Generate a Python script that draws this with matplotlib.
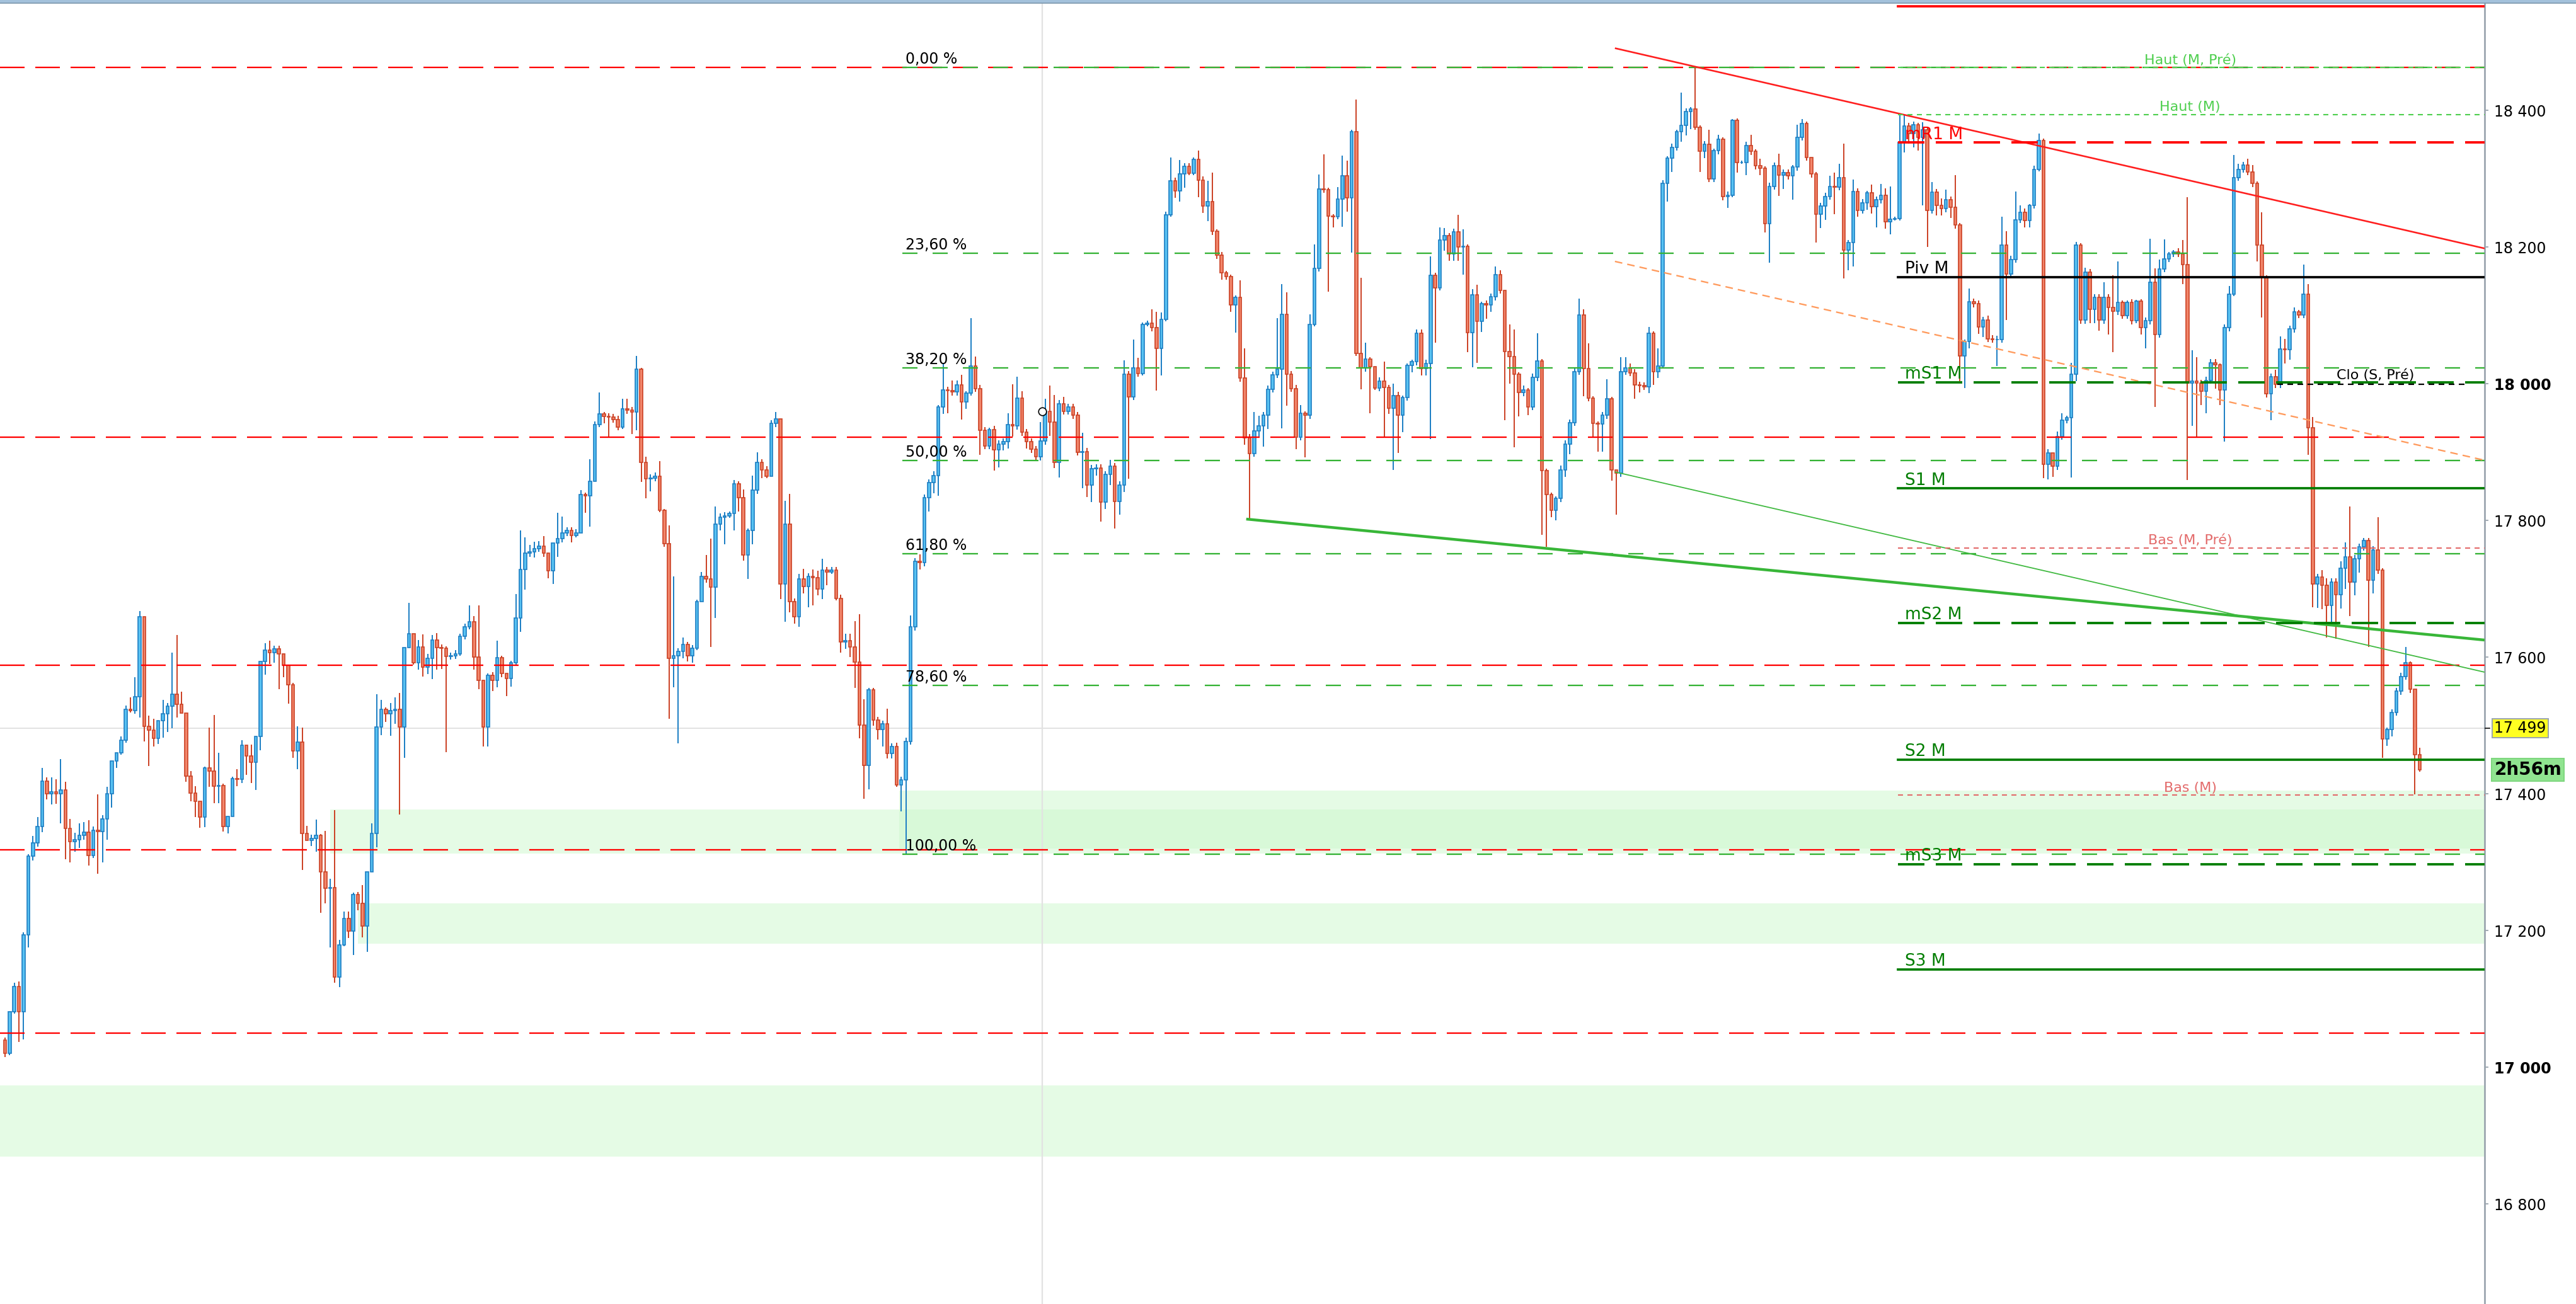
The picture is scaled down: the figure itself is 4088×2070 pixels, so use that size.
import numpy as np
import matplotlib.pyplot as plt
from matplotlib.patches import Rectangle
from matplotlib.lines import Line2D
from matplotlib.transforms import blended_transform_factory

plt.rcParams['font.family'] = ['DejaVu Sans']
plt.rcParams['lines.scale_dashes'] = False

W, H = 4088, 2070
PX = 72 / 100  # points per pixel at dpi 100

# ---- candles (open = previous close) ----
first_open = 17040
closes = [
    17020, 17081, 17118, 17081, 17194, 17309, 17328, 17352, 17419, 17400,
    17403, 17400, 17406, 17349, 17330, 17333, 17339, 17344, 17310, 17347,
    17345, 17363, 17400, 17448, 17460, 17478, 17524, 17522, 17542, 17659,
    17499, 17493, 17481, 17507, 17517, 17528, 17546, 17531, 17518, 17426,
    17401, 17389, 17366, 17438, 17433, 17411, 17412, 17352, 17367, 17422,
    17421, 17471, 17455, 17446, 17484, 17594, 17610, 17607, 17612, 17605,
    17588, 17560, 17463, 17476, 17342, 17332, 17335, 17339, 17286, 17262,
    17263, 17132, 17179, 17218, 17199, 17253, 17240, 17207, 17286, 17342,
    17498, 17524, 17517, 17522, 17524, 17498, 17614, 17634, 17592, 17615,
    17585, 17598, 17625, 17614, 17613, 17601, 17602, 17605, 17631, 17644,
    17652, 17600, 17566, 17498, 17573, 17566, 17599, 17576, 17569, 17592,
    17657, 17728, 17752, 17754, 17759, 17762, 17752, 17726, 17767, 17773,
    17782, 17785, 17778, 17782, 17838, 17836, 17857, 17940, 17956, 17952,
    17951, 17948, 17937, 17963, 17961, 17959, 18021, 17885, 17861, 17862,
    17865, 17815, 17766, 17598, 17602, 17608, 17619, 17602, 17613, 17681,
    17718, 17714, 17702, 17795, 17805, 17807, 17810, 17854, 17833, 17749,
    17785, 17844, 17885, 17874, 17865, 17942, 17949, 17707, 17795, 17681,
    17659, 17714, 17703, 17718, 17716, 17700, 17727, 17725, 17727, 17686,
    17622, 17624, 17615, 17593, 17501, 17442, 17552, 17508, 17494, 17502,
    17459, 17469, 17413, 17420, 17477, 17644, 17740, 17738, 17833, 17855,
    17866, 17966, 17991, 17990, 17988, 17998, 17973, 17986, 18026, 17993,
    17932, 17909, 17933, 17903, 17912, 17915, 17940, 17938, 17979, 17929,
    17915, 17904, 17893, 17916, 17960, 17944, 17885, 17971, 17960, 17966,
    17954, 17900, 17901, 17852, 17876, 17877, 17827, 17867, 17879, 17828,
    17852, 18014, 17981, 18023, 18015, 18087, 18089, 18082, 18052, 18094,
    18247, 18297, 18282, 18307, 18318, 18308, 18328, 18298, 18260, 18267,
    18223, 18188, 18162, 18157, 18115, 18126, 18008, 17921, 17898, 17931,
    17938, 17954, 17992, 18013, 18021, 18102, 18014, 17993, 17922, 17957,
    17954, 18087, 18169, 18285, 18284, 18245, 18244, 18270, 18304, 18272,
    18369, 18044, 18023, 18036, 18025, 17994, 18004, 17995, 17964, 17983,
    17954, 17980, 18027, 18032, 18074, 18022, 18030, 18159, 18140, 18210,
    18217, 18190, 18222, 18200, 18201, 18075, 18130, 18091, 18117, 18115,
    18127, 18160, 18137, 18047, 18040, 18014, 17987, 17991, 17966, 18009,
    18033, 17873, 17838, 17815, 17832, 17874, 17912, 17943, 18018, 18101,
    18022, 17979, 17942, 17941, 17954, 17978, 17874, 17869, 18018, 18023,
    18016, 17998, 17997, 17996, 18074, 18018, 18026, 18293, 18330, 18346,
    18369, 18378, 18398, 18402, 18375, 18340, 18350, 18300, 18341, 18358,
    18274, 18276, 18385, 18324, 18324, 18349, 18340, 18319, 18315, 18234,
    18289, 18319, 18305, 18309, 18304, 18317, 18361, 18381, 18331, 18307,
    18248, 18260, 18274, 18289, 18288, 18302, 18196, 18207, 18281, 18254,
    18265, 18279, 18259, 18269, 18276, 18237, 18241, 18242, 18353, 18377,
    18366, 18379, 18361, 18372, 18254, 18280, 18261, 18256, 18269, 18258,
    18232, 18041, 18062, 18120, 18117, 18083, 18093, 18066, 18065, 18065,
    18203, 18161, 18182, 18240, 18251, 18239, 18261, 18314, 18356, 17882,
    17899, 17879, 17923, 17947, 17950, 18014, 18203, 18093, 18163, 18109,
    18126, 18093, 18126, 18112, 18106, 18119, 18100, 18119, 18092, 18121,
    18082, 18092, 18149, 18072, 18168, 18183, 18190, 18193, 18190, 18174,
    18001, 18004, 18001, 17989, 18005, 18031, 18028, 17991, 18082, 18131,
    18302, 18314, 18320, 18310, 18293, 18203, 18156, 17985, 18010, 17999,
    18051, 18050, 18080, 18105, 18101, 18131, 17936, 17707, 17717, 17705,
    17676, 17710, 17691, 17730, 17747, 17710, 17744, 17761, 17771, 17713,
    17757, 17727, 17480, 17494, 17519, 17550, 17572, 17592, 17553, 17457, 17435,
]
upper_wick = [
    3, 0, 6, 7, 3, 3, 10, 14, 19, 5,
    21, 18, 45, 12, 14, 10, 18, 15, 17, 5,
    52, 6, 10, 0, 0, 6, 5, 17, 29, 8,
    0, 15, 17, 0, 20, 5, 61, 86, 18, 0,
    7, 10, 0, 2, 59, 82, 48, 3, 0, 3,
    14, 7, 0, 17, 0, 0, 10, 14, 5, 5,
    0, 0, 2, 23, 21, 11, 5, 23, 2, 60,
    13, 113, 7, 10, 10, 2, 3, 26, 0, 15,
    48, 13, 2, 11, 17, 24, 0, 45, 0, 10,
    18, 7, 7, 10, 5, 3, 5, 5, 3, 5,
    24, 8, 76, 0, 3, 5, 25, 3, 0, 3,
    35, 57, 23, 10, 10, 8, 15, 0, 0, 38,
    24, 5, 5, 5, 6, 3, 33, 5, 31, 3,
    5, 5, 5, 15, 15, 5, 20, 2, 8, 5,
    5, 22, 2, 27, 116, 5, 10, 3, 5, 3,
    7, 31, 59, 25, 5, 5, 3, 5, 3, 12,
    3, 22, 15, 5, 5, 5, 10, 0, 34, 44,
    5, 8, 15, 5, 10, 10, 17, 5, 5, 5,
    5, 10, 10, 38, 70, 37, 3, 3, 5, 5,
    23, 5, 6, 5, 5, 17, 5, 10, 5, 5,
    6, 3, 39, 5, 15, 7, 15, 3, 70, 14,
    5, 5, 3, 5, 5, 5, 17, 59, 31, 10,
    5, 5, 5, 28, 18, 37, 40, 5, 10, 5,
    5, 5, 27, 5, 5, 5, 5, 5, 10, 5,
    5, 20, 5, 42, 15, 3, 3, 20, 23, 10,
    5, 34, 5, 20, 5, 5, 3, 13, 5, 30,
    42, 3, 5, 3, 3, 3, 25, 44, 5, 28,
    15, 5, 5, 5, 75, 44, 32, 5, 5, 12,
    3, 15, 35, 21, 51, 3, 3, 18, 30, 22,
    3, 47, 111, 24, 3, 0, 5, 28, 3, 17,
    5, 3, 3, 3, 5, 5, 5, 27, 3, 19,
    11, 3, 5, 25, 25, 3, 8, 15, 3, 5,
    5, 12, 6, 0, 40, 39, 3, 6, 3, 6,
    41, 3, 3, 3, 3, 6, 5, 5, 5, 24,
    8, 37, 3, 3, 5, 29, 3, 0, 21, 16,
    7, 5, 5, 5, 9, 3, 26, 5, 3, 5,
    3, 48, 5, 3, 62, 3, 5, 22, 3, 6,
    3, 5, 2, 3, 2, 5, 15, 3, 10, 3,
    5, 5, 18, 5, 5, 3, 18, 6, 3, 0,
    3, 5, 5, 15, 20, 20, 49, 3, 18, 5,
    5, 3, 12, 5, 16, 10, 48, 2, 40, 16,
    5, 5, 3, 11, 3, 15, 5, 10, 15, 5,
    47, 3, 3, 19, 5, 5, 5, 7, 5, 5,
    41, 20, 5, 41, 10, 5, 2, 5, 10, 3,
    5, 0, 7, 10, 3, 17, 5, 3, 7, 5,
    5, 5, 23, 5, 47, 60, 3, 3, 5, 2,
    3, 5, 63, 20, 14, 28, 3, 3, 5, 20,
    99, 45, 35, 5, 5, 5, 5, 2, 5, 12,
    33, 8, 5, 9, 10, 3, 48, 3, 5, 10,
    18, 15, 5, 7, 3, 43, 15, 15, 5, 10,
    10, 5, 5, 10, 21, 73, 5, 5, 3, 3,
    5, 48, 3, 3, 5, 5, 5, 23, 2, 0, 10,
]
lower_wick = [
    5, 2, 3, 44, 40, 19, 7, 5, 8, 8,
    16, 15, 43, 45, 30, 15, 12, 6, 15, 4,
    62, 45, 30, 20, 10, 3, 3, 3, 5, 30,
    22, 52, 12, 8, 25, 27, 32, 19, 0, 8,
    12, 23, 16, 15, 23, 25, 25, 7, 10, 0,
    10, 5, 27, 30, 40, 20, 20, 17, 15, 52,
    17, 28, 10, 27, 53, 0, 8, 20, 60, 22,
    87, 8, 15, 2, 10, 35, 10, 17, 38, 0,
    20, 12, 12, 32, 20, 128, 45, 0, 3, 10,
    13, 10, 30, 32, 30, 140, 5, 5, 3, 5,
    3, 18, 13, 29, 29, 16, 10, 5, 26, 12,
    3, 20, 29, 5, 8, 5, 5, 11, 19, 20,
    5, 5, 10, 3, 0, 25, 45, 0, 3, 10,
    30, 5, 5, 3, 5, 33, 27, 29, 29, 18,
    5, 3, 5, 88, 42, 128, 10, 8, 10, 3,
    0, 5, 87, 45, 10, 40, 3, 25, 20, 8,
    35, 20, 5, 12, 3, 0, 5, 22, 55, 15,
    10, 15, 10, 30, 40, 10, 15, 20, 3, 3,
    15, 10, 15, 38, 20, 49, 35, 8, 15, 25,
    7, 7, 3, 39, 108, 5, 5, 10, 5, 20,
    15, 30, 10, 33, 5, 5, 25, 10, 3, 5,
    36, 5, 5, 30, 25, 10, 10, 15, 5, 5,
    10, 5, 5, 5, 5, 20, 8, 22, 5, 5,
    5, 5, 53, 18, 25, 10, 29, 10, 15, 40,
    20, 10, 120, 5, 5, 3, 3, 5, 62, 40,
    3, 3, 10, 15, 20, 3, 3, 25, 10, 22,
    5, 5, 10, 5, 10, 40, 5, 10, 96, 5,
    10, 30, 20, 5, 5, 86, 46, 5, 18, 5,
    62, 5, 3, 5, 5, 110, 15, 3, 40, 20,
    80, 3, 31, 5, 68, 3, 5, 72, 8, 90,
    55, 25, 5, 10, 5, 10, 10, 111, 80, 3,
    15, 10, 10, 20, 40, 29, 51, 60, 15, 20,
    10, 5, 5, 100, 40, 107, 35, 5, 12, 5,
    5, 94, 77, 10, 15, 5, 10, 15, 5, 5,
    40, 5, 20, 40, 40, 5, 16, 61, 5, 5,
    5, 20, 10, 5, 10, 20, 10, 3, 26, 20,
    5, 15, 15, 25, 3, 30, 10, 5, 5, 5,
    6, 17, 3, 15, 2, 19, 5, 5, 10, 13,
    57, 5, 30, 20, 5, 35, 5, 5, 5, 5,
    41, 20, 20, 5, 40, 5, 42, 30, 35, 10,
    5, 10, 10, 30, 5, 10, 18, 2, 3, 15,
    15, 20, 20, 100, 54, 5, 15, 10, 5, 15,
    5, 37, 47, 10, 5, 10, 15, 5, 5, 39,
    5, 68, 5, 5, 5, 10, 10, 5, 3, 20,
    22, 15, 5, 5, 5, 87, 10, 5, 5, 20,
    20, 15, 5, 40, 60, 5, 5, 5, 5, 3,
    10, 30, 5, 106, 5, 5, 5, 5, 5, 28,
    142, 63, 78, 20, 32, 5, 35, 22, 76, 5,
    3, 5, 5, 5, 5, 24, 59, 5, 38, 5,
    5, 20, 15, 5, 5, 5, 40, 34, 35, 35,
    47, 30, 64, 20, 30, 50, 20, 20, 5, 98,
    20, 5, 27, 10, 10, 5, 5, 5, 5, 58, 3,
]

# ---- drawings (x in candle index units) ----
fib_high, fib_low = 18463, 17312
fib_ratios = [0, 0.236, 0.382, 0.5, 0.618, 0.786, 1.0]
fib_start = 193.2

red_levels = [18463, 17922, 17588, 17318, 17050]

pivot_names = ['R1 M', 'mR1 M', 'Piv M', 'mS1 M', 'S1 M', 'mS2 M', 'S2 M', 'mS3 M', 'S3 M']
pivot_prices = [18552, 18353, 18156, 18002, 17847, 17650, 17450, 17297, 17143]
pivot_start = 407.7

info_names = ['Haut (M, Pré)', 'Haut (M)', 'Bas (M, Pré)', 'Bas (M)']
info_prices = [18463, 18394, 17760, 17398]
info_label_x = 470.6

clo_name = 'Clo (S, Pré)'
clo_price = 17999
clo_from, clo_to = 489.3, 530.0
clo_label_x = 502.1

zone_start = [-2, 70, 192.5, 76]
zone_low = [16869, 17313, 17320, 17181]
zone_high = [16973, 17377, 17405, 17240]

trend_x0 = [346.7, 346.7, 267.3, 346.7]
trend_p0 = [18491, 18179, 17802, 17871]
trend_x1 = [534, 534, 534, 534]
trend_p1 = [18198, 17888, 17625, 17578]

last_price = 17496
last_label = '17 499'
timer_label = '2h56m'
session_break = 223.4
marker_price = 17960
y_ticks = list(range(16800, 18401, 200))

# ---- figure ----
fig = plt.figure(figsize=(W / 100, H / 100), dpi=100, facecolor='white')
ax = fig.add_axes([0, 0, 3942.7 / W, 1])
x_lo, x_hi = -1.086, 533.96
ax.set_xlim(x_lo, x_hi)
ax.set_ylim(16653.5, 18561.5)

# zones
for x0, lo, hi in zip(zone_start, zone_low, zone_high):
    ax.add_patch(Rectangle((x0, lo), x_hi + 5 - x0, hi - lo, fc='#cdf9cd',
                           ec='none', alpha=0.5, zorder=0.5))

ax.axhline(last_price, color='#e2e2e2', lw=2 * PX, zorder=1)
ax.axvline(session_break, color='#e2e2e2', lw=2.3 * PX, zorder=1)

# candles
closes = np.array(closes, dtype=float)
opens = np.r_[first_open, closes[:-1]]
xs = np.arange(len(closes))
body_lo = np.minimum(opens, closes)
body_hi = np.maximum(opens, closes)
highs = body_hi + np.array(upper_wick)
lows = body_lo - np.array(lower_wick)
up = closes >= opens
for mask, fill, edge in [(up, '#58c2f2', '#1f80c4'), (~up, '#f2866b', '#cc4428')]:
    ax.vlines(xs[mask], lows[mask], highs[mask], colors=edge, lw=2.0 * PX, zorder=3)
    ax.bar(xs[mask], (body_hi - body_lo)[mask], bottom=body_lo[mask], width=0.62,
           color=fill, edgecolor=edge, linewidth=1.7 * PX, zorder=3.1)

# red dashed levels
for p in red_levels:
    ax.axhline(p, color='#ff0000', lw=2.3 * PX, dashes=(39 * PX, 17 * PX), zorder=4)

# fibonacci
for r in fib_ratios:
    lvl = fib_high - r * (fib_high - fib_low)
    ax.plot([fib_start, x_hi], [lvl, lvl], color='#34b234', lw=2.3 * PX,
            dashes=(24 * PX, 24 * PX), zorder=4.2)
    ax.annotate(f'{r * 100:.2f} %'.replace('.', ','), (fib_start, lvl),
                xytext=(3.6, 4.3), textcoords='offset points', fontsize=17,
                color='black', va='baseline', ha='left', zorder=7)

# trend lines
trend_styles = [dict(color='#ff1e1e', lw=2.6 * PX),
                dict(color='#ff9a5c', lw=2.3 * PX, dashes=(12 * PX, 8 * PX)),
                dict(color='#38b638', lw=4.4 * PX),
                dict(color='#40b940', lw=1.8 * PX)]
for x0, p0, x1, p1, st in zip(trend_x0, trend_p0, trend_x1, trend_p1, trend_styles):
    ax.plot([x0, x1], [p0, p1], zorder=4.5, solid_capstyle='butt', **st)

# info lines
for name, p in zip(info_names, info_prices):
    col = '#4fcf4f' if name.startswith('Haut') else '#e36b6b'
    ax.plot([pivot_start, x_hi], [p, p], color=col, lw=2.1 * PX,
            dashes=(8 * PX, 7 * PX), zorder=4.6)
    ax.annotate(name, (info_label_x, p), xytext=(0, 3.8), textcoords='offset points',
                fontsize=16, color=col, va='baseline', ha='center', zorder=7)

# weekly close
ax.plot([clo_from, clo_to], [clo_price, clo_price], color='black', lw=2.2 * PX,
        dashes=(9 * PX, 7 * PX), zorder=5.2)
ax.annotate(clo_name, (clo_label_x, clo_price), xytext=(0, 6), textcoords='offset points',
            fontsize=16, color='black', va='baseline', ha='left', zorder=7)

# monthly pivots
for name, p in zip(pivot_names, pivot_prices):
    if 'R' in name:
        col = '#ff0000'
    elif name.startswith('Piv'):
        col = 'black'
    else:
        col = '#007d00'
    if name.startswith('m'):
        ax.plot([pivot_start, x_hi], [p, p], color=col, lw=3.8 * PX,
                dashes=(42 * PX, 18 * PX), zorder=5)
    else:
        ax.plot([pivot_start, x_hi], [p, p], color=col, lw=3.7 * PX, zorder=5)
    if name != 'R1 M':
        ax.annotate(name, (pivot_start, p), xytext=(7.7, 4), textcoords='offset points',
                    fontsize=19, color=col, va='baseline', ha='left', zorder=7)

ax.plot(session_break, marker_price, 'o', ms=9, mfc='white', mec='black', mew=1.2, zorder=6)

# axis
for s in ['left', 'top', 'bottom']:
    ax.spines[s].set_visible(False)
ax.spines['right'].set_color('#9aa4ae')
ax.spines['right'].set_linewidth(2.7 * PX)
ax.set_xticks([])
ax.yaxis.tick_right()
ax.set_yticks(y_ticks)
ax.set_yticklabels([f'{t // 1000} {t % 1000:03d}' for t in y_ticks])
ax.tick_params(axis='y', direction='out', length=6.3 * PX, width=1.8 * PX,
               color='#9aa4ae', pad=6.3, labelsize=17)
for t, lab in zip(y_ticks, ax.get_yticklabels()):
    if t % 1000 == 0:
        lab.set_fontweight('bold')

# last price + timer
ax.annotate(last_label, xy=(1, last_price), xycoords=('axes fraction', 'data'),
            xytext=(11.2, 0), textcoords='offset points', fontsize=17, va='center',
            ha='left', annotation_clip=False, zorder=8,
            bbox=dict(boxstyle='square,pad=0.14', fc='#ffff22', ec='#9aa4ae', lw=1.4))
ax.annotate(timer_label, xy=(1, last_price), xycoords=('axes fraction', 'data'),
            xytext=(11.2, -47.4), textcoords='offset points', fontsize=20,
            fontweight='bold', va='center', ha='left', annotation_clip=False, zorder=8,
            bbox=dict(boxstyle='square,pad=0.14', fc='#90e490', ec='#7ed67e', lw=1.4))
blend = blended_transform_factory(ax.transAxes, ax.transData)
ax.add_line(Line2D([1.0004, 1.0021], [last_price, last_price], transform=blend,
                   color='black', lw=1.6 * PX, clip_on=False, zorder=8))

# top bar
fig.add_artist(Rectangle((0, 1 - 5 / H), 1, 5 / H, transform=fig.transFigure,
                         fc='#a3c1db', ec='none'))
fig.add_artist(Line2D([0, 1], [1 - 5 / H, 1 - 5 / H], transform=fig.transFigure,
                      color='#7a95ab', lw=1.6 * PX))

fig.savefig('out.png', dpi=100, facecolor='white')
